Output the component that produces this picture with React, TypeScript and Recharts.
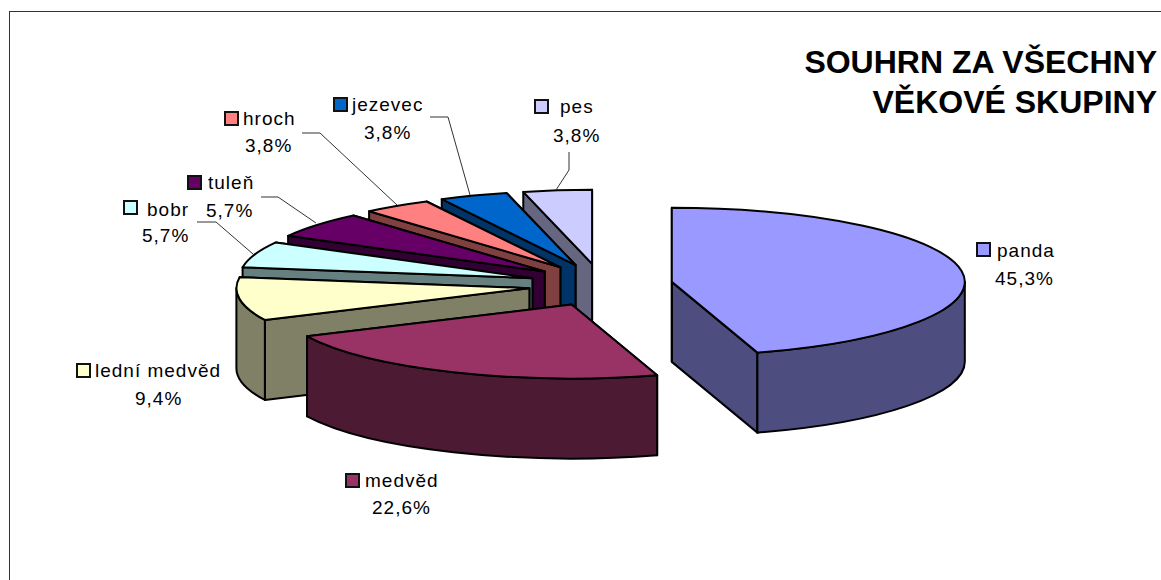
import { Pie, PieChart } from "recharts";

// drawn back to front, counter-clockwise from 12 o'clock
const names = ["pes", "jezevec", "hroch", "tuleň", "bobr", "lední medvěd", "medvěd", "panda"];
const counts = [2, 2, 2, 3, 3, 5, 12, 24];
const topColors = ["#CCCCFF", "#0066CC", "#FF8080", "#660066", "#CCFFFF", "#FFFFCC", "#993366", "#9999FF"];
const wallColors = ["#666680", "#003366", "#804040", "#330033", "#668080", "#808066", "#4D1A33", "#4D4D80"];
const titleLines = ["SOUHRN ZA VŠECHNY", "VĚKOVÉ SKUPINY"];

const data = names.map((name, i) => ({ name, value: counts[i], fill: topColors[i], wall: wallColors[i] }));
const total = counts.reduce((a, b) => a + b, 0);

// pie projection
const CX = 600.6;
const CY = 285;
const RX = 293;
const RY = 74;
const DEPTH = 80;
const EXPLODE_X = 72;
const EXPLODE_Y = 21.3;

type LabelBox = { box: [number, number]; name: [number, number]; pct: [number, number]; leader?: string };

const labelBoxes: Record<string, LabelBox> = {
  panda: { box: [977, 243], name: [997, 257], pct: [995, 285] },
  "medvěd": { box: [346, 474], name: [365, 487], pct: [372, 514] },
  "lední medvěd": { box: [77, 364], name: [95, 377], pct: [135, 405] },
  bobr: { box: [124, 201], name: [147, 216], pct: [142, 242], leader: "197,222 216,222 253,254" },
  "tuleň": { box: [188, 176], name: [208, 189], pct: [206, 217], leader: "261,197 278,197 316,223" },
  hroch: { box: [225, 112], name: [243, 125], pct: [245, 152], leader: "302,133 320,133 397,205" },
  jezevec: { box: [334, 98], name: [352, 111], pct: [364, 139], leader: "430,117 448,117 470,195" },
  pes: { box: [535, 100], name: [560, 113], pct: [553, 142], leader: "569,152 569,170 556,190" },
};

const rad = (d: number) => (d * Math.PI) / 180;

function Slice3D(props: any) {
  const { cx, cy, startAngle, endAngle, fill, payload } = props;
  const mid = (startAngle + endAngle) / 2;
  const ax = cx + EXPLODE_X * Math.cos(rad(mid));
  const ay = cy - EXPLODE_Y * Math.sin(rad(mid));
  const pt = (a: number, dy = 0) => `${ax + RX * Math.cos(rad(a))} ${ay - RY * Math.sin(rad(a)) + dy}`;
  const arc = (a: number, b: number, dy = 0, sweep = 0) =>
    `A ${RX} ${RY} 0 ${Math.abs(b - a) > 180 ? 1 : 0} ${sweep} ${pt(b, dy)}`;
  const radial = (a: number) => `M ${ax} ${ay} L ${pt(a)} L ${pt(a, DEPTH)} L ${ax} ${ay + DEPTH} Z`;

  const a0 = Math.max(startAngle, 180);
  const a1 = Math.min(endAngle, 360);
  const wall = payload?.wall ?? props.wall;
  const line = { stroke: "#000", strokeWidth: 2, strokeLinejoin: "round" as const };

  return (
    <g>
      <path d={radial(startAngle)} fill={wall} {...line} />
      <path d={radial(endAngle)} fill={wall} {...line} />
      {a1 > a0 && (
        <path d={`M ${pt(a0)} ${arc(a0, a1)} L ${pt(a1, DEPTH)} ${arc(a1, a0, DEPTH, 1)} Z`} fill={wall} {...line} />
      )}
      <path d={`M ${ax} ${ay} L ${pt(startAngle)} ${arc(startAngle, endAngle)} Z`} fill={fill} {...line} />
    </g>
  );
}

function SliceLabel(props: any) {
  const { name, value, fill } = props;
  const l = labelBoxes[name];
  if (!l) return null;
  const pct = `${((value / total) * 100).toFixed(1).replace(".", ",")}%`;
  const text = { fontFamily: "Liberation Sans", fontSize: 19, letterSpacing: 1, fill: "#000" };
  return (
    <g>
      {l.leader && <polyline points={l.leader} fill="none" stroke="#333" strokeWidth={1} />}
      <rect x={l.box[0]} y={l.box[1]} width={13} height={13} fill={fill} stroke="#111" strokeWidth={2} />
      <text x={l.name[0]} y={l.name[1]} {...text}>{name}</text>
      <text x={l.pct[0]} y={l.pct[1]} {...text}>{pct}</text>
    </g>
  );
}

export default function App() {
  return (
    <div style={{ position: "absolute", left: 0, top: 0, width: 1161, height: 580, overflow: "hidden", background: "#fff" }}>
      <div
        style={{
          position: "absolute",
          left: 9,
          top: 11,
          width: 1200,
          height: 600,
          borderLeft: "1px solid #333",
          borderTop: "1px solid #333",
        }}
      />
      <PieChart
        width={1161}
        height={580}
        margin={{ top: 0, right: 0, bottom: 0, left: 0 }}
        style={{ position: "absolute", left: 0, top: 0 }}
      >
        <Pie
          data={data}
          dataKey="value"
          nameKey="name"
          cx={CX}
          cy={CY}
          outerRadius={RX}
          startAngle={90}
          endAngle={450}
          paddingAngle={0}
          isAnimationActive={false}
          shape={Slice3D}
          label={SliceLabel}
          labelLine={false}
        />
        <text x={1157} y={73} textAnchor="end" fontFamily="Liberation Sans" fontWeight="bold" fontSize={32} fill="#000">
          {titleLines[0]}
        </text>
        <text x={1157} y={113} textAnchor="end" fontFamily="Liberation Sans" fontWeight="bold" fontSize={32} fill="#000">
          {titleLines[1]}
        </text>
      </PieChart>
    </div>
  );
}
